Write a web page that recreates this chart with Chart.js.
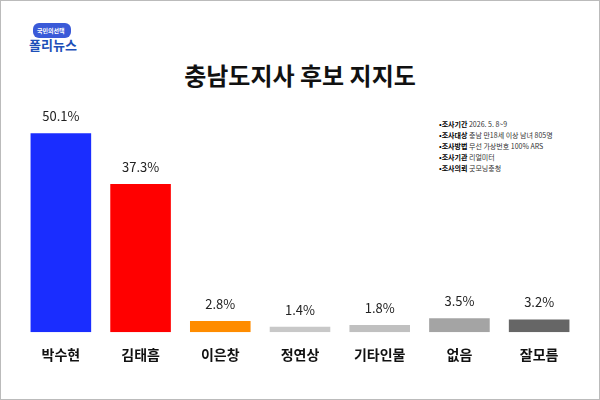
<!DOCTYPE html><html><head><meta charset="utf-8">
<script src="https://cdn.jsdelivr.net/npm/chart.js@4"></script>
<style>html,body{margin:0;padding:0;background:#fff}
#w{position:relative;width:598px;height:398px;border:1px solid #bbb;font-family:"Noto Sans CJK KR",sans-serif}
#t{position:absolute;top:56px;left:0;width:100%;text-align:center;font-size:24px;font-weight:bold;color:#111}
#n{position:absolute;left:438px;top:118px;font-size:7px;line-height:11px;color:#333}
#n b{color:#000}
#logo{position:absolute;left:28px;top:22px;font-size:13px;font-weight:bold;color:#1d4fb8;line-height:13px}
#logo span{display:block;font-size:6px;background:#3a5ad8;color:#fff;border-radius:6px;padding:1px 4px;width:30px;margin-left:4px}
canvas{position:absolute;left:0;top:0}
</style></head><body><div id="w">
<div id="logo"><span>국민의선택</span>폴리뉴스</div>
<div id="t">충남도지사 후보 지지도</div>
<div id="n"><b>•조사기간</b> 2026. 5. 8~9<br><b>•조사대상</b> 충남 만18세 이상 남녀 805명<br><b>•조사방법</b> 무선 가상번호 100% ARS<br><b>•조사기관</b> 리얼미터<br><b>•조사의뢰</b> 굿모닝충청</div>
<canvas id="c" width="598" height="398"></canvas></div>
<script>
const categories=["박수현","김태흠","이은창","정연상","기타인물","없음","잘모름"];
const values=[50.1,37.3,2.8,1.4,1.8,3.5,3.2];
const colors=["#1a2dff","#ff0000","#ff8c00","#c8c8c8","#c0c0c0","#a4a4a4","#666666"];
const lbl={id:"lbl",afterDatasetsDraw(ch){const x=ch.ctx;const m=ch.getDatasetMeta(0);x.save();x.font="13px 'Noto Sans CJK KR',sans-serif";x.fillStyle="#222";x.textAlign="center";
m.data.forEach((b,i)=>x.fillText(values[i].toFixed(1)+"%",b.x,b.y-12));x.restore();}};
new Chart(document.getElementById("c"),{type:"bar",data:{labels:categories,datasets:[{data:values,backgroundColor:colors,barPercentage:0.76,categoryPercentage:1}]},
options:{responsive:false,animation:false,layout:{padding:{left:20,right:20,top:93,bottom:30}},plugins:{legend:{display:false},tooltip:{enabled:false}},
scales:{y:{display:false,min:0,max:60},x:{grid:{display:false},border:{display:false},ticks:{color:"#111",font:{size:14,weight:"bold",family:"'Noto Sans CJK KR',sans-serif"},padding:6}}}},plugins:[lbl]});
</script></body></html>
